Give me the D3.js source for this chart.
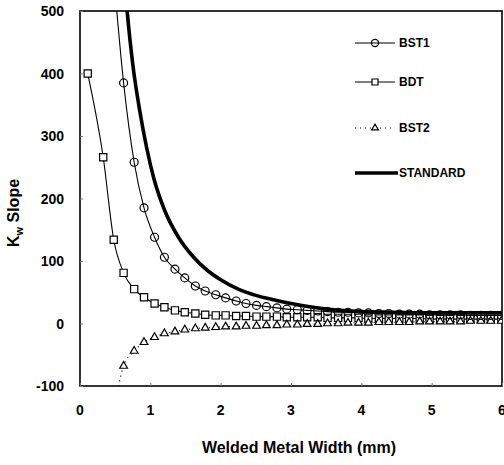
<!DOCTYPE html>
<html>
<head>
<meta charset="utf-8">
<script src="https://cdn.jsdelivr.net/npm/d3@7"></script>
<style>
  body { margin: 0; background: #fff; }
  svg text { font-family: "Liberation Sans", Arial, sans-serif; font-weight: bold; fill: #000; }
</style>
</head>
<body>
<div id="chart"></div>
<script>
// welded metal width (mm) where the curves were sampled
const widths = [0.11, 0.33, 0.48, 0.62, 0.77, 0.91, 1.06, 1.20, 1.35, 1.49, 1.64, 1.78, 1.93, 2.07,
    2.22, 2.36, 2.51, 2.65, 2.80, 2.94, 3.09, 3.23, 3.38, 3.52, 3.67, 3.81, 3.96, 4.10, 4.25, 4.39,
    4.54, 4.68, 4.83, 4.97, 5.12, 5.26, 5.41, 5.55, 5.70, 5.84, 5.99];

const bst1 = [null, null, 555, 385, 258, 185, 138, 106, 87, 73, 60, 52, 46, 41, 36, 32, 29, 27, 25, 23,
    22, 21, 20, 19, 18, 18, 17, 17, 16, 16, 15, 15, 15, 14, 14, 14, 14, 13, 13, 13, 13];

const bdt = [400, 266, 134, 81, 55, 42, 32, 26, 21, 18, 16, 14, 13, 13, 12, 12, 11, 11, 11, 10,
    10, 10, 10, 9, 9, 9, 9, 8, 8, 8, 8, 8, 8, 7, 7, 7, 7, 7, 7, 7, 7];

const bst2 = [null, null, -140, -68, -44, -30, -22, -16, -13, -10, -8, -7, -6, -5, -5, -4, -4, -3, -3, -2,
    -2, -1, -1, 0, 0, 1, 1, 1, 2, 2, 2, 2, 3, 3, 3, 3, 3, 4, 4, 4, 4];

// standard curve (no markers)
const stdWidths = [0.6, 0.67, 0.75, 0.85, 0.95, 1.05, 1.2, 1.4, 1.6, 1.8, 2.0, 2.25, 2.5, 2.75, 3.0,
    3.5, 4.0, 4.5, 5.0, 5.5, 6.0];
const stdValues = [600, 500, 415, 340, 280, 232, 182, 138, 108, 86, 70, 55, 45, 38, 32,
    23, 19, 18, 17, 17, 17];

const xTicks = [0, 1, 2, 3, 4, 5, 6];
const yTicks = [-100, 0, 100, 200, 300, 400, 500];
const legendNames = ['BST1', 'BDT', 'BST2', 'STANDARD'];

const width = 504, height = 465;
const plotLeft = 80, plotRight = 502, plotTop = 11, plotBottom = 386;

const svg = d3.select('#chart').append('svg')
    .attr('width', width)
    .attr('height', height);

const x = d3.scaleLinear().domain([0, 6]).range([plotLeft, plotRight]);
const y = d3.scaleLinear().domain([-100, 500]).range([plotBottom, plotTop]);

svg.append('clipPath').attr('id', 'plot-clip')
    .append('rect')
    .attr('x', plotLeft).attr('y', plotTop)
    .attr('width', plotRight - plotLeft).attr('height', plotBottom - plotTop);

// frame
svg.append('rect')
    .attr('x', plotLeft).attr('y', plotTop)
    .attr('width', plotRight - plotLeft).attr('height', plotBottom - plotTop)
    .attr('fill', 'none')
    .attr('stroke', '#000')
    .attr('stroke-width', 1.6);

// small inward ticks
svg.append('g')
    .attr('transform', `translate(${plotLeft},0)`)
    .call(d3.axisRight(y).tickValues(yTicks).tickSize(3).tickFormat(''))
    .call(g => g.select('.domain').remove())
    .call(g => g.selectAll('line').attr('stroke', '#777'));

svg.append('g')
    .attr('transform', `translate(0,${plotBottom})`)
    .call(d3.axisTop(x).tickValues(xTicks).tickSize(3).tickFormat(''))
    .call(g => g.select('.domain').remove())
    .call(g => g.selectAll('line').attr('stroke', '#777'));

// tick labels
svg.append('g').selectAll('text')
    .data(yTicks)
    .enter()
    .append('text')
    .attr('x', 64)
    .attr('y', d => y(d))
    .attr('dy', '0.36em')
    .attr('text-anchor', 'end')
    .attr('font-size', 14)
    .text(d => d);

svg.append('g').selectAll('text')
    .data(xTicks)
    .enter()
    .append('text')
    .attr('x', d => x(d))
    .attr('y', 410)
    .attr('dy', '0.36em')
    .attr('text-anchor', 'middle')
    .attr('font-size', 14)
    .text(d => d);

// axis titles
svg.append('text')
    .attr('x', (plotLeft + plotRight) / 2 + 8)
    .attr('y', 447)
    .attr('dy', '0.36em')
    .attr('text-anchor', 'middle')
    .attr('font-size', 16)
    .text('Welded Metal Width (mm)');

const yTitle = svg.append('text')
    .attr('transform', 'translate(19,213) rotate(-90)')
    .attr('text-anchor', 'middle')
    .attr('font-size', 16);
yTitle.append('tspan').text('K');
yTitle.append('tspan').attr('font-size', 11).attr('dy', 4).text('w');
yTitle.append('tspan').attr('dy', -4).text(' Slope');

// series
const plot = svg.append('g').attr('clip-path', 'url(#plot-clip)');

function drawSeries(values, opts) {
    const pts = widths.map((w, i) => ({ w, v: values[i] })).filter(d => d.v !== null);
    const line = d3.line()
        .x(d => x(d.w))
        .y(d => y(d.v))
        .curve(d3.curveMonotoneX);
    plot.append('path')
        .datum(pts)
        .attr('fill', 'none')
        .attr('stroke', '#000')
        .attr('stroke-width', opts.lineWidth)
        .attr('stroke-dasharray', opts.dash || null)
        .attr('d', line);
    plot.append('g').selectAll('path')
        .data(pts)
        .enter()
        .append('path')
        .attr('transform', d => `translate(${x(d.w)},${y(d.v)})`)
        .attr('d', d3.symbol().type(opts.symbol).size(opts.size))
        .attr('fill', opts.fill)
        .attr('stroke', '#000')
        .attr('stroke-width', 1.2);
}

drawSeries(bdt, { symbol: d3.symbolSquare, size: 52, fill: '#fff', lineWidth: 1.1 });
drawSeries(bst2, { symbol: d3.symbolTriangle, size: 26, fill: '#fff', lineWidth: 1.2, dash: '1,4' });
drawSeries(bst1, { symbol: d3.symbolCircle, size: 50, fill: 'none', lineWidth: 1.1 });

const stdLine = d3.line()
    .x(d => x(d))
    .y((d, i) => y(stdValues[i]))
    .curve(d3.curveMonotoneX);
plot.append('path')
    .datum(stdWidths)
    .attr('fill', 'none')
    .attr('stroke', '#000')
    .attr('stroke-width', 3.6)
    .attr('d', stdLine);

// legend
const legendY = [43, 82, 128, 173];
const legendStyle = [
    { symbol: d3.symbolCircle, size: 40, fill: 'none', lineWidth: 1.2 },
    { symbol: d3.symbolSquare, size: 36, fill: '#fff', lineWidth: 1.2 },
    { symbol: d3.symbolTriangle, size: 20, fill: '#fff', lineWidth: 1.2, dash: '1,4' },
    { symbol: null, lineWidth: 3.6 }
];
const legend = svg.append('g').selectAll('g')
    .data(legendNames)
    .enter()
    .append('g')
    .attr('transform', (d, i) => `translate(0,${legendY[i]})`);

legend.append('line')
    .attr('x1', 355).attr('x2', (d, i) => i === 3 ? 398 : 395)
    .attr('stroke', '#000')
    .attr('stroke-width', (d, i) => legendStyle[i].lineWidth)
    .attr('stroke-dasharray', (d, i) => legendStyle[i].dash || null);

legend.filter((d, i) => legendStyle[i].symbol)
    .append('path')
    .attr('transform', 'translate(375,0)')
    .attr('d', (d, i) => d3.symbol().type(legendStyle[i].symbol).size(legendStyle[i].size)())
    .attr('fill', (d, i) => legendStyle[i].fill)
    .attr('stroke', '#000')
    .attr('stroke-width', 1.2);

legend.append('text')
    .attr('x', 399)
    .attr('dy', '0.36em')
    .attr('font-size', 12)
    .text(d => d);
</script>
</body>
</html>
